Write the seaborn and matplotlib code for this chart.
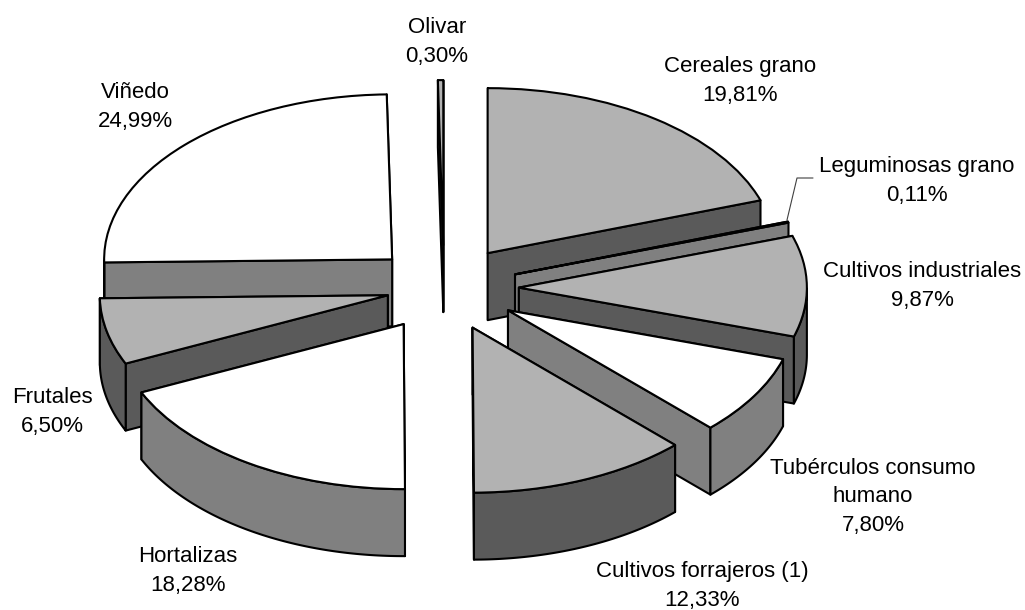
import numpy as np
import seaborn as sns
import matplotlib.pyplot as plt
from matplotlib.patches import Polygon

cultivos = ['Cereales grano', 'Leguminosas grano', 'Cultivos industriales',
            'Tubérculos consumo\nhumano', 'Cultivos forrajeros (1)', 'Hortalizas',
            'Frutales', 'Viñedo', 'Olivar']
porcentajes = [19.81, 0.11, 9.87, 7.80, 12.33, 18.28, 6.50, 24.99, 0.30]
etiquetas_pct = ['19,81%', '0,11%', '9,87%', '7,80%', '12,33%', '18,28%', '6,50%', '24,99%', '0,30%']

sns.set_theme(style='white')
plt.rcParams['font.family'] = ['Liberation Sans', 'DejaVu Sans']

GRIS, OSCURO, MEDIO, BLANCO = '#b2b2b2', '#5a5a5a', '#808080', '#ffffff'
tapas = [GRIS, GRIS, GRIS, BLANCO, GRIS, BLANCO, GRIS, BLANCO, GRIS]
lados = [OSCURO, MEDIO, OSCURO, MEDIO, OSCURO, MEDIO, OSCURO, MEDIO, OSCURO]
separacion = [0.26, 0.26, 0.26, 0.26, 0.26, 0.26, 0.20, 0.25, 0.26]

W, H = 1025, 610
CX, CY = 444, 288   # centre of the pie, px
RX, RY = 288, 165   # squashed radius, px
GROSOR = 67 / RY    # depth of the walls in y units
LW = 1.5

fig = plt.figure(figsize=(W / 100, H / 100), dpi=100)
ax = fig.add_axes([0, 0, 1, 1])
wedges, _ = ax.pie(porcentajes, explode=separacion, startangle=90,
                   counterclock=False, colors=tapas,
                   wedgeprops=dict(edgecolor='black', linewidth=LW, joinstyle='round'))
ax.set_aspect('auto')
ax.set_xlim(-CX / RX, (W - CX) / RX)
ax.set_ylim((CY - H) / RY, CY / RY)


def borde(w, t):
    r = np.deg2rad(t)
    return w.center[0] + np.cos(r), w.center[1] + np.sin(r)


def pared(ax, pts, color, z):
    pts = np.array(pts)
    abajo = pts[::-1] - [0, GROSOR]
    ax.add_patch(Polygon(np.vstack([pts, abajo]), closed=True, facecolor=color,
                         edgecolor='black', linewidth=LW, joinstyle='round', zorder=z))


# painter's order: slices at the back first
orden = sorted(range(len(wedges)),
               key=lambda i: -np.sin(np.deg2rad((wedges[i].theta1 + wedges[i].theta2) / 2)))
for n, i in enumerate(orden):
    w = wedges[i]
    z = 2 + n * 5
    caras = sorted([w.theta1, w.theta2], key=lambda t: -borde(w, t)[1])
    for k, t in enumerate(caras):
        pared(ax, [w.center, borde(w, t)], lados[i], z + k)
    # curved wall, only the part facing the viewer
    angs = np.linspace(w.theta1, w.theta2, 120)
    angs = angs[np.sin(np.deg2rad(angs)) < 0.0]
    if len(angs) > 1:
        pared(ax, [borde(w, t) for t in angs], lados[i], z + 2)
    w.set_zorder(z + 3)

# label centres in px
pos_etiquetas = [(740, 81), (917, 181), (922, 286), (873, 497), (702, 586),
                 (188, 571), (52, 412), (135, 107), (437, 42)]
for c, p, (x, y) in zip(cultivos, etiquetas_pct, pos_etiquetas):
    fig.text(x / W, 1 - y / H, c + '\n' + p, ha='center', va='center',
             fontsize=16, linespacing=1.46, color='black')

# leader line of Leguminosas
lx = np.array([813, 797, 787]) / W
ly = 1 - np.array([178, 178, 220]) / H
fig.add_artist(plt.Line2D(lx, ly, color='#404040', linewidth=0.8))

fig.savefig('out.png', dpi=100)
